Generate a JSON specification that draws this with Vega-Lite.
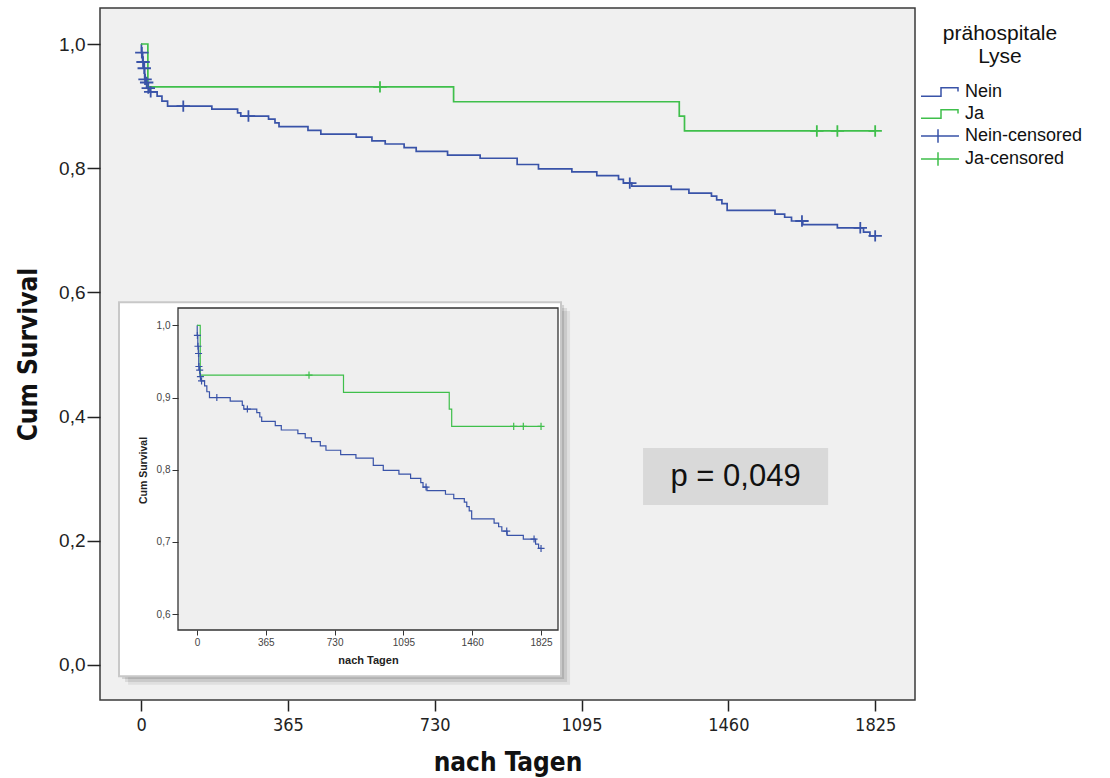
{
  "$schema": "https://vega.github.io/schema/vega-lite/v6.json",
  "width": 815,
  "height": 692,
  "autosize": {"type": "none"},
  "padding": {"left": 100, "top": 8, "right": 195, "bottom": 78},
  "background": "white",
  "config": {
    "view": {"fill": "#f0f0f0", "stroke": "#3a3a3a", "strokeWidth": 1.5},
    "font": "Liberation Sans"
  },
  "datasets": {
    "one": [{}],
    "surv": [
      {"g": "Nein", "t": 0, "s": 1.0},
      {"g": "Nein", "t": 1, "s": 0.986},
      {"g": "Nein", "t": 4, "s": 0.971},
      {"g": "Nein", "t": 7, "s": 0.961},
      {"g": "Nein", "t": 9, "s": 0.943},
      {"g": "Nein", "t": 12, "s": 0.938},
      {"g": "Nein", "t": 16, "s": 0.929},
      {"g": "Nein", "t": 20, "s": 0.923},
      {"g": "Nein", "t": 40, "s": 0.916},
      {"g": "Nein", "t": 52, "s": 0.908},
      {"g": "Nein", "t": 66, "s": 0.900},
      {"g": "Nein", "t": 176, "s": 0.895},
      {"g": "Nein", "t": 240, "s": 0.889},
      {"g": "Nein", "t": 248, "s": 0.884},
      {"g": "Nein", "t": 317, "s": 0.879},
      {"g": "Nein", "t": 333, "s": 0.873},
      {"g": "Nein", "t": 343, "s": 0.867},
      {"g": "Nein", "t": 415, "s": 0.861},
      {"g": "Nein", "t": 447, "s": 0.855},
      {"g": "Nein", "t": 535, "s": 0.850},
      {"g": "Nein", "t": 574, "s": 0.844},
      {"g": "Nein", "t": 607, "s": 0.839},
      {"g": "Nein", "t": 654, "s": 0.833},
      {"g": "Nein", "t": 684, "s": 0.827},
      {"g": "Nein", "t": 762, "s": 0.821},
      {"g": "Nein", "t": 843, "s": 0.816},
      {"g": "Nein", "t": 935, "s": 0.806},
      {"g": "Nein", "t": 988, "s": 0.799},
      {"g": "Nein", "t": 1071, "s": 0.794},
      {"g": "Nein", "t": 1133, "s": 0.788},
      {"g": "Nein", "t": 1187, "s": 0.782},
      {"g": "Nein", "t": 1199, "s": 0.776},
      {"g": "Nein", "t": 1220, "s": 0.771},
      {"g": "Nein", "t": 1318, "s": 0.766},
      {"g": "Nein", "t": 1362, "s": 0.760},
      {"g": "Nein", "t": 1418, "s": 0.755},
      {"g": "Nein", "t": 1431, "s": 0.749},
      {"g": "Nein", "t": 1444, "s": 0.743},
      {"g": "Nein", "t": 1457, "s": 0.732},
      {"g": "Nein", "t": 1576, "s": 0.726},
      {"g": "Nein", "t": 1600, "s": 0.721},
      {"g": "Nein", "t": 1617, "s": 0.715},
      {"g": "Nein", "t": 1645, "s": 0.709},
      {"g": "Nein", "t": 1731, "s": 0.704},
      {"g": "Nein", "t": 1796, "s": 0.697},
      {"g": "Nein", "t": 1812, "s": 0.691},
      {"g": "Nein", "t": 1825, "s": 0.691},
      {"g": "Ja", "t": 0, "s": 1.0},
      {"g": "Ja", "t": 17, "s": 0.931},
      {"g": "Ja", "t": 777, "s": 0.907},
      {"g": "Ja", "t": 1338, "s": 0.884},
      {"g": "Ja", "t": 1351, "s": 0.860},
      {"g": "Ja", "t": 1825, "s": 0.860}
    ],
    "cens": [
      {"g": "Nein-censored", "t": 2, "s": 0.986},
      {"g": "Nein-censored", "t": 5, "s": 0.971},
      {"g": "Nein-censored", "t": 8, "s": 0.961},
      {"g": "Nein-censored", "t": 10, "s": 0.943},
      {"g": "Nein-censored", "t": 14, "s": 0.938},
      {"g": "Nein-censored", "t": 18, "s": 0.929},
      {"g": "Nein-censored", "t": 24, "s": 0.923},
      {"g": "Nein-censored", "t": 105, "s": 0.900},
      {"g": "Nein-censored", "t": 267, "s": 0.884},
      {"g": "Nein-censored", "t": 1215, "s": 0.776},
      {"g": "Nein-censored", "t": 1643, "s": 0.715},
      {"g": "Nein-censored", "t": 1788, "s": 0.704},
      {"g": "Nein-censored", "t": 1825, "s": 0.691},
      {"g": "Ja-censored", "t": 594, "s": 0.931},
      {"g": "Ja-censored", "t": 1680, "s": 0.860},
      {"g": "Ja-censored", "t": 1731, "s": 0.860},
      {"g": "Ja-censored", "t": 1825, "s": 0.860}
    ]
  },
  "resolve": {"scale": {"x": "independent", "y": "independent"}},
  "layer": [
    {
      "layer": [
        {
          "data": {"name": "surv"},
          "mark": {"type": "line", "interpolate": "step-after", "strokeWidth": 1.7},
          "encoding": {
            "x": {
              "field": "t", "type": "quantitative", "title": "nach Tagen",
              "scale": {"domain": [-102, 1924], "nice": false, "zero": false},
              "axis": {
                "values": [0, 365, 730, 1095, 1460, 1825], "format": "d", "domain": false, "grid": false,
                "tickSize": 11, "tickWidth": 1.5, "tickColor": "#222",
                "labelFont": "Liberation Sans Narrow, DejaVu Sans Condensed, Liberation Sans",
                "labelFontSize": 18, "labelColor": "#222", "labelPadding": 5,
                "titleFont": "Liberation Sans Narrow, DejaVu Sans Condensed, Liberation Sans",
                "titleFontSize": 26, "titleFontWeight": "bold", "titleColor": "#111",
                "titleY": 62, "titleBaseline": "middle"
              }
            },
            "y": {
              "field": "s", "type": "quantitative", "title": "Cum Survival",
              "scale": {"domain": [-0.0564, 1.058], "nice": false, "zero": false},
              "axis": {
                "values": [0, 0.2, 0.4, 0.6, 0.8, 1.0], "domain": false, "grid": false,
                "labelExpr": "replace(format(datum.value, '.1f'), '.', ',')",
                "tickSize": 13, "tickWidth": 1.5, "tickColor": "#222",
                "labelFontSize": 19, "labelColor": "#222", "labelPadding": 2,
                "titleFont": "Liberation Sans Narrow, DejaVu Sans Condensed, Liberation Sans",
                "titleFontSize": 26, "titleFontWeight": "bold", "titleColor": "#111",
                "titleX": -72, "titleY": 346, "titleAngle": -90, "titleBaseline": "middle", "titleAlign": "center"
              }
            },
            "color": {
              "field": "g", "type": "nominal",
              "scale": {
                "domain": ["Nein", "Ja", "Nein-censored", "Ja-censored"],
                "range": ["#3953a8", "#3fbf4b", "#3953a8", "#3fbf4b"]
              },
              "legend": {
                "title": ["prähospitale", "Lyse"],
                "orient": "none", "legendX": 818, "legendY": 15,
                "titleFont": "Liberation Sans", "titleFontSize": 21, "titleFontWeight": "normal",
                "titleColor": "#111", "titleAnchor": "middle", "titleAlign": "center",
                "titleLineHeight": 23, "titlePadding": 14,
                "labelFont": "Liberation Sans", "labelFontSize": 18, "labelColor": "#111",
                "symbolSize": 400, "symbolStrokeWidth": 1.5, "labelOffset": 25, "rowPadding": 2,
                "encode": {
                  "symbols": {
                    "update": {
                      "shape": {"signal": "indexof(['Nein','Ja'], datum.value) >= 0 ? 'M-0.8,0.42H1.2V-0.42H2.9V-0.04' : 'M-0.8,0H3M0.9,-0.68V0.68'"},
                      "fill": {"value": "transparent"}
                    }
                  }
                }
              }
            }
          }
        },
        {
          "data": {"name": "cens"},
          "mark": {"type": "point", "shape": "M-1,0H1M0,-0.85V0.85", "size": 180, "strokeWidth": 1.8, "filled": false, "opacity": 1},
          "encoding": {
            "x": {"field": "t", "type": "quantitative", "title": "nach Tagen"},
            "y": {"field": "s", "type": "quantitative", "title": "Cum Survival"},
            "color": {"field": "g", "type": "nominal"}
          }
        },
        {
          "data": {"name": "one"},
          "mark": {"type": "rect", "fill": "#d9d9d9"},
          "encoding": {
            "x": {"datum": 1248, "type": "quantitative", "title": "nach Tagen"},
            "x2": {"datum": 1708},
            "y": {"datum": 0.3494, "type": "quantitative", "title": "Cum Survival"},
            "y2": {"datum": 0.2577}
          }
        },
        {
          "data": {"name": "one"},
          "mark": {"type": "text", "text": "p = 0,049", "fontSize": 31, "font": "Liberation Sans", "color": "#111", "align": "center", "baseline": "middle"},
          "encoding": {
            "x": {"datum": 1478, "type": "quantitative", "title": "nach Tagen"},
            "y": {"datum": 0.3027, "type": "quantitative", "title": "Cum Survival"}
          }
        }
      ]
    },
    {
      "layer": [
        {
          "data": {"name": "one"},
          "mark": {"type": "rect", "fill": "#000000", "opacity": 0.07},
          "encoding": {
            "x": {"datum": -366, "type": "quantitative", "title": "nach Tagen"},
            "x2": {"datum": 1979},
            "y": {"datum": 1.020, "type": "quantitative", "title": "Cum Survival"},
            "y2": {"datum": 0.502}
          }
        },
        {
          "data": {"name": "one"},
          "mark": {"type": "rect", "fill": "#000000", "opacity": 0.09},
          "encoding": {
            "x": {"datum": -382, "type": "quantitative", "title": "nach Tagen"},
            "x2": {"datum": 1963},
            "y": {"datum": 1.024, "type": "quantitative", "title": "Cum Survival"},
            "y2": {"datum": 0.506}
          }
        },
        {
          "data": {"name": "one"},
          "mark": {"type": "rect", "fill": "#000000", "opacity": 0.12},
          "encoding": {
            "x": {"datum": -398, "type": "quantitative", "title": "nach Tagen"},
            "x2": {"datum": 1947},
            "y": {"datum": 1.028, "type": "quantitative", "title": "Cum Survival"},
            "y2": {"datum": 0.510}
          }
        },
        {
          "data": {"name": "one"},
          "mark": {"type": "rect", "fill": "#ffffff", "stroke": "#c8c8c8", "strokeWidth": 2},
          "encoding": {
            "x": {"datum": -414, "type": "quantitative", "title": "nach Tagen"},
            "x2": {"datum": 1931},
            "y": {"datum": 1.032, "type": "quantitative", "title": "Cum Survival"},
            "y2": {"datum": 0.514}
          }
        },
        {
          "data": {"name": "one"},
          "mark": {"type": "rect", "fill": "#efefef", "stroke": "#333333", "strokeWidth": 1.3},
          "encoding": {
            "x": {"datum": -101, "type": "quantitative", "title": "nach Tagen"},
            "x2": {"datum": 1915},
            "y": {"datum": 1.024, "type": "quantitative", "title": "Cum Survival"},
            "y2": {"datum": 0.578}
          }
        },
        {
          "data": {"name": "surv"},
          "mark": {"type": "line", "interpolate": "step-after", "strokeWidth": 1.2},
          "encoding": {
            "x": {
              "field": "t", "type": "quantitative", "title": "nach Tagen",
              "scale": {"domain": [-101, 1915], "range": [78, 458], "nice": false, "zero": false},
              "axis": {
                "orient": "bottom", "offset": -70, "zindex": 1,
                "values": [0, 365, 730, 1095, 1460, 1825], "format": "d", "domain": false, "grid": false,
                "tickSize": 5, "tickColor": "#333", "tickWidth": 1,
                "labelFontSize": 10, "labelColor": "#444", "labelPadding": 2,
                "titleFontSize": 11, "titleFontWeight": "bold", "titleColor": "#222",
                "titleY": 30, "titleBaseline": "middle"
              }
            },
            "y": {
              "field": "s", "type": "quantitative", "title": "Cum Survival",
              "scale": {"domain": [0.578, 1.024], "range": [622, 300], "nice": false, "zero": false},
              "axis": {
                "orient": "left", "offset": -78, "zindex": 1,
                "values": [0.6, 0.7, 0.8, 0.9, 1.0], "domain": false, "grid": false,
                "labelExpr": "replace(format(datum.value, '.1f'), '.', ',')",
                "tickSize": 6, "tickColor": "#333", "tickWidth": 1,
                "labelFontSize": 10, "labelColor": "#444", "labelPadding": 2,
                "titleFontSize": 10.5, "titleFontWeight": "bold", "titleColor": "#222",
                "titleX": -35, "titleY": 462, "titleAngle": -90, "titleBaseline": "middle", "titleAlign": "center"
              }
            },
            "color": {"field": "g", "type": "nominal"}
          }
        },
        {
          "data": {"name": "cens"},
          "mark": {"type": "point", "shape": "M-1,0H1M0,-1V1", "size": 50, "strokeWidth": 1.2, "filled": false, "opacity": 1},
          "encoding": {
            "x": {"field": "t", "type": "quantitative", "title": "nach Tagen"},
            "y": {"field": "s", "type": "quantitative", "title": "Cum Survival"},
            "color": {"field": "g", "type": "nominal"}
          }
        }
      ]
    }
  ]
}
